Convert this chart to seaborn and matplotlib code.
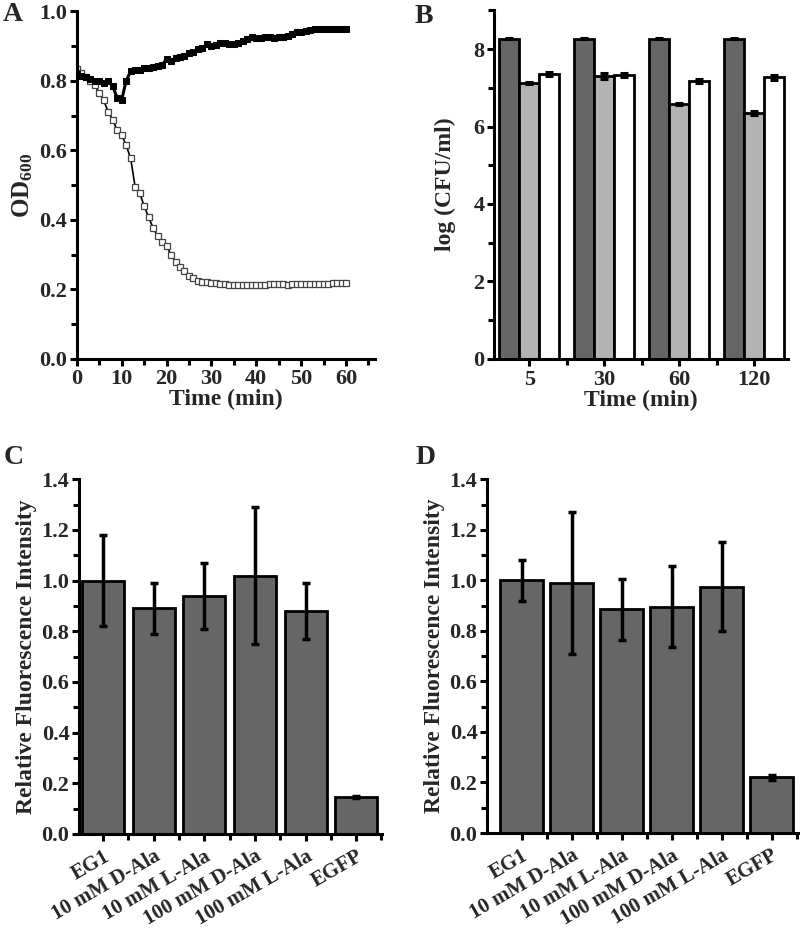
import numpy as np
import pandas as pd
import matplotlib
matplotlib.use("Agg")
import matplotlib.pyplot as plt
import seaborn as sns
from matplotlib.ticker import MultipleLocator, FixedLocator

# Panel A: OD600 over time (one reading per minute)
time_min = list(range(0, 61))
od_control = [0.820, 0.815, 0.810, 0.805, 0.800, 0.798, 0.795, 0.798, 0.785, 0.750,
              0.745, 0.800, 0.827, 0.830, 0.832, 0.836, 0.838, 0.840, 0.842, 0.845,
              0.862, 0.856, 0.866, 0.868, 0.870, 0.880, 0.883, 0.890, 0.893, 0.905,
              0.900, 0.903, 0.910, 0.908, 0.906, 0.905, 0.910, 0.915, 0.920, 0.925,
              0.922, 0.923, 0.925, 0.925, 0.922, 0.925, 0.926, 0.930, 0.935, 0.940,
              0.940, 0.943, 0.945, 0.948, 0.948, 0.950, 0.948, 0.950, 0.948, 0.950,
              0.950]
od_treated = [0.835, 0.822, 0.812, 0.800, 0.787, 0.765, 0.744, 0.710, 0.687, 0.658,
              0.644, 0.615, 0.577, 0.495, 0.478, 0.440, 0.408, 0.377, 0.353, 0.335,
              0.325, 0.300, 0.278, 0.265, 0.252, 0.240, 0.232, 0.225, 0.222, 0.220,
              0.218, 0.217, 0.216, 0.215, 0.212, 0.212, 0.212, 0.212, 0.212, 0.212,
              0.213, 0.213, 0.214, 0.215, 0.215, 0.215, 0.215, 0.214, 0.215, 0.215,
              0.215, 0.215, 0.215, 0.215, 0.215, 0.215, 0.215, 0.217, 0.217, 0.218,
              0.218]

# Panel B: log(CFU/ml)
b_times = ["5", "30", "60", "120"]
b_groups = ["g1", "g2", "g3"]
b_g1 = [8.27, 8.27, 8.27, 8.27]
b_g2 = [7.13, 7.30, 6.58, 6.34]
b_g3 = [7.35, 7.32, 7.17, 7.27]
b_g1_err = [0.01, 0.01, 0.01, 0.01]
b_g2_err = [0.03, 0.07, 0.02, 0.05]
b_g3_err = [0.05, 0.05, 0.05, 0.07]

# Panels C and D: relative fluorescence intensity
conditions = ["EG1", "10 mM D-Ala", "10 mM L-Ala", "100 mM D-Ala", "100 mM L-Ala", "EGFP"]
c_vals = [1.00, 0.89, 0.94, 1.02, 0.88, 0.145]
c_err = [0.18, 0.10, 0.13, 0.27, 0.11, 0.003]
d_vals = [1.00, 0.99, 0.885, 0.895, 0.975, 0.22]
d_err = [0.08, 0.28, 0.12, 0.16, 0.175, 0.01]

sns.set_style("ticks")
plt.rcParams["font.family"] = ["Liberation Serif", "DejaVu Serif"]
plt.rcParams["font.weight"] = "bold"
plt.rcParams["axes.labelweight"] = "bold"
plt.rcParams["mathtext.fontset"] = "custom"
plt.rcParams["mathtext.rm"] = "Liberation Serif:bold"
plt.rcParams["mathtext.default"] = "rm"

fig = plt.figure(figsize=(8, 9.36), dpi=100)
axA = fig.add_axes([0.096, 0.6165, 0.373, 0.3715])
axB = fig.add_axes([0.6175, 0.6165, 0.3675, 0.3725])
axC = fig.add_axes([0.099, 0.109, 0.3785, 0.379])
axD = fig.add_axes([0.609, 0.110, 0.3885, 0.378])

SP = 2.2
TICK_FS = 16
LAB_FS = 17


def style_axis(ax):
    sns.despine(ax=ax)
    for s in ("left", "bottom"):
        ax.spines[s].set_linewidth(SP)
        ax.spines[s].set_color("black")
    ax.tick_params(which="major", direction="out", length=5, width=2.2,
                   labelsize=TICK_FS, color="black", pad=2)
    ax.tick_params(which="minor", direction="out", length=4, width=2.2, color="black")
    ax.set_facecolor("white")


# ---- A ----
sns.lineplot(x=time_min, y=od_treated, ax=axA, color="black", linewidth=1.2,
             marker="s", markersize=4.2, markerfacecolor="white",
             markeredgecolor="#444444", markeredgewidth=0.9)
sns.lineplot(x=time_min, y=od_control, ax=axA, color="black", linewidth=2.2,
             marker="s", markersize=5.0, markerfacecolor="black",
             markeredgecolor="black")
axA.set_xlim(0, 66.5)
axA.set_ylim(0, 1.0)
axA.xaxis.set_major_locator(MultipleLocator(10))
axA.xaxis.set_minor_locator(MultipleLocator(5))
axA.yaxis.set_major_locator(MultipleLocator(0.2))
axA.yaxis.set_minor_locator(MultipleLocator(0.1))
axA.yaxis.set_major_formatter(matplotlib.ticker.FormatStrFormatter("%.1f"))
style_axis(axA)
axA.set_xlabel("Time (min)", fontsize=LAB_FS, labelpad=0)
axA.set_ylabel("OD$_{600}$", fontsize=LAB_FS + 1, labelpad=3)

# ---- B ----
dfB = pd.DataFrame({
    "time": b_times * 3,
    "group": [g for g in b_groups for _ in b_times],
    "val": b_g1 + b_g2 + b_g3,
})
sns.barplot(data=dfB, x="time", y="val", hue="group", order=b_times,
            hue_order=b_groups, palette=["#666666", "#b3b3b3", "#ffffff"],
            edgecolor="black", linewidth=2.0, width=0.8, ax=axB,
            errorbar=None, legend=False, saturation=1)
b_err_flat = []
for i in range(len(b_times)):
    b_err_flat += [b_g1_err[i], b_g2_err[i], b_g3_err[i]]
pB = sorted(axB.patches, key=lambda p: p.get_x())
axB.errorbar([p.get_x() + p.get_width() / 2 for p in pB],
             [p.get_height() for p in pB], yerr=b_err_flat, fmt="none",
             ecolor="black", elinewidth=3, capsize=3, capthick=2.2, zorder=5)
axB.set_xlim(-0.47, 3.45)
axB.set_ylim(0, 9)
axB.yaxis.set_major_locator(MultipleLocator(2))
axB.yaxis.set_minor_locator(MultipleLocator(1))
axB.xaxis.set_minor_locator(FixedLocator([0.5, 1.5, 2.5]))
style_axis(axB)
axB.tick_params(axis="x", which="major", pad=3)
axB.set_xlabel("Time (min)", fontsize=LAB_FS, labelpad=0)
axB.set_ylabel("log (CFU/ml)", fontsize=LAB_FS, labelpad=12)


# ---- C and D ----
def fluor_panel(ax, vals, errs, width, xlim):
    df = pd.DataFrame({"cond": conditions, "val": vals})
    sns.barplot(data=df, x="cond", y="val", order=conditions, color="#666666",
                edgecolor="black", linewidth=2.0, width=width, ax=ax,
                errorbar=None, saturation=1)
    pp = sorted(ax.patches, key=lambda p: p.get_x())
    ax.errorbar([p.get_x() + p.get_width() / 2 for p in pp],
                [p.get_height() for p in pp], yerr=errs, fmt="none",
                ecolor="black", elinewidth=2.5, capsize=3, capthick=2.5, zorder=5)
    ax.set_xlim(*xlim)
    ax.set_ylim(0, 1.4)
    ax.yaxis.set_major_locator(MultipleLocator(0.2))
    ax.yaxis.set_minor_locator(MultipleLocator(0.1))
    ax.yaxis.set_major_formatter(matplotlib.ticker.FormatStrFormatter("%.1f"))
    ax.xaxis.set_minor_locator(FixedLocator([0.5, 1.5, 2.5, 3.5, 4.5, 5.5]))
    style_axis(ax)
    ax.set_xticks(range(len(conditions)))
    ax.set_xticklabels(conditions, rotation=30, ha="right",
                       rotation_mode="anchor", fontsize=15)
    ax.tick_params(axis="x", which="major", pad=4)
    ax.set_xlabel("")
    ax.set_ylabel("Relative Fluorescence Intensity", fontsize=LAB_FS, labelpad=3)


fluor_panel(axC, c_vals, c_err, 0.83, (-0.47, 5.51))
fluor_panel(axD, d_vals, d_err, 0.86, (-0.69, 5.53))

# panel letters
for lab, x, y in [("A", 0.004, 0.998), ("B", 0.518, 0.996),
                  ("C", 0.004, 0.525), ("D", 0.520, 0.525)]:
    fig.text(x, y, lab, fontsize=20, fontweight="bold", va="top", ha="left")

fig.savefig("out.png", dpi=100, facecolor="white")
